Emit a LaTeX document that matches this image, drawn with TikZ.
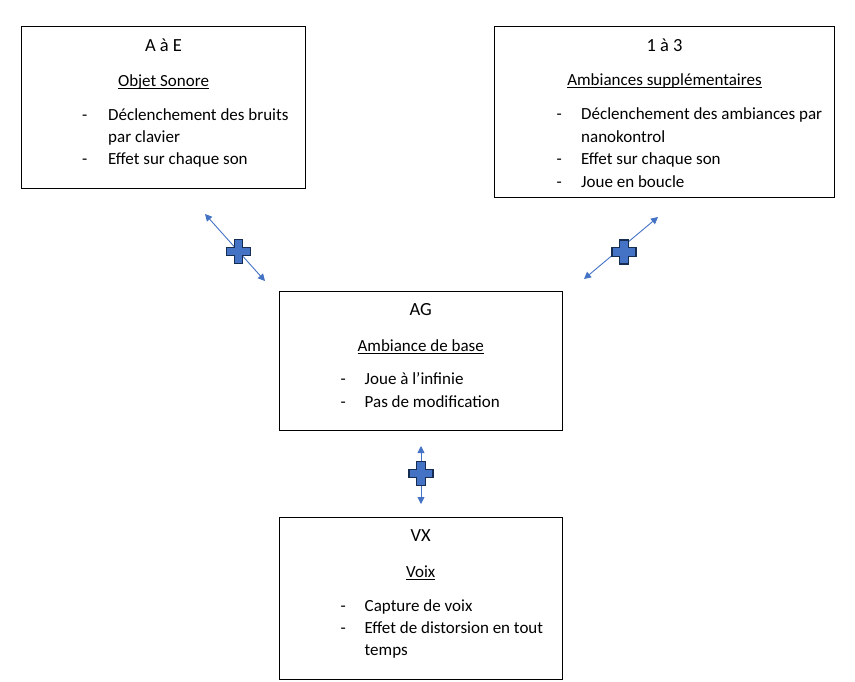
\documentclass[tikz,border=0pt]{standalone}
\usepackage{fontspec}
\setmainfont{Carlito}
\usetikzlibrary{arrows.meta}

\definecolor{bleu}{HTML}{4472C4}
\definecolor{marine}{HTML}{172C51}

% soulignement a la Word : trait fixe sous la ligne de base
\newcommand\souligne[1]{\leavevmode\setbox0\hbox{#1}\rlap{\rule[-2.6pt]{\wd0}{0.9pt}}\box0}

\tikzset{
  boite/.style={draw=black, line width=1pt, rectangle, inner sep=0pt},
  titre/.style={anchor=base, inner sep=0pt, font=\fontsize{18.5}{22}\selectfont},
  soustitre/.style={anchor=base, inner sep=0pt, font=\fontsize{17}{22}\selectfont},
  ligne/.style={anchor=base west, inner sep=0pt, font=\fontsize{17}{22}\selectfont},
  lien/.style={draw=bleu, line width=0.9pt, {Triangle[length=7pt,width=7pt]}-{Triangle[length=7pt,width=7pt]}},
  croix/.pic={
    \filldraw[fill=bleu, draw=marine, line width=1.1pt]
      (-4.2,-12) -- (4.2,-12) -- (4.2,-4.2) -- (12,-4.2) -- (12,4.2) -- (4.2,4.2)
      -- (4.2,12) -- (-4.2,12) -- (-4.2,4.2) -- (-12,4.2) -- (-12,-4.2) -- (-4.2,-4.2) -- cycle;
  }
}

\begin{document}
\begin{tikzpicture}[x=1pt, y=-1pt]

  %% ==== boites ====
  \node[boite, minimum width=283.6pt, minimum height=161.6pt] (objet) at (163.5,107.5) {};
  \node[boite, minimum width=339.6pt, minimum height=171pt] (ambsup) at (664.5,112.2) {};
  \node[boite, minimum width=283.3pt, minimum height=139pt] (ambbase) at (420.7,360.6) {};
  \node[boite, minimum width=283.3pt, minimum height=161.6pt] (voix) at (420.7,598.5) {};

  %% ==== A a E ====
  \node[titre] (objetT) at (163.5,51) {A à E};
  \node[soustitre] (objetS) at (163.5,86) {\souligne{Objet Sonore}};
  \node[ligne] (objetD1) at (82,120) {-};
  \node[ligne] (objetL1) at (108,120) {Déclenchement des bruits};
  \node[ligne] (objetL1b) at (108,142.5) {par clavier};
  \node[ligne] (objetD2) at (82,164.5) {-};
  \node[ligne] (objetL2) at (108,164.5) {Effet sur chaque son};

  %% ==== 1 a 3 ====
  \node[titre] (ambsupT) at (664.5,51) {1 à 3};
  \node[soustitre] (ambsupS) at (664.5,85.5) {\souligne{Ambiances supplémentaires}};
  \node[ligne] (ambsupD1) at (556.5,119.5) {-};
  \node[ligne] (ambsupL1) at (581,119.5) {Déclenchement des ambiances par};
  \node[ligne] (ambsupL1b) at (581,142) {nanokontrol};
  \node[ligne] (ambsupD2) at (556.5,164.5) {-};
  \node[ligne] (ambsupL2) at (581,164.5) {Effet sur chaque son};
  \node[ligne] (ambsupD3) at (556.5,187) {-};
  \node[ligne] (ambsupL3) at (581,187) {Joue en boucle};

  %% ==== AG ====
  \node[titre] (ambbaseT) at (420.7,315.7) {AG};
  \node[soustitre] (ambbaseS) at (420.7,351) {\souligne{Ambiance de base}};
  \node[ligne] (ambbaseD1) at (340.5,384.3) {-};
  \node[ligne] (ambbaseL1) at (364.5,384.3) {Joue à l’infinie};
  \node[ligne] (ambbaseD2) at (340.5,407.3) {-};
  \node[ligne] (ambbaseL2) at (364.5,407.3) {Pas de modification};

  %% ==== VX ====
  \node[titre] (voixT) at (420.7,541.3) {VX};
  \node[soustitre] (voixS) at (420.7,577) {\souligne{Voix}};
  \node[ligne] (voixD1) at (340.5,611) {-};
  \node[ligne] (voixL1) at (364.5,611) {Capture de voix};
  \node[ligne] (voixD2) at (340.5,633.7) {-};
  \node[ligne] (voixL2) at (364.5,633.7) {Effet de distorsion en tout};
  \node[ligne] (voixL2b) at (364.5,655.5) {temps};

  %% ==== liens + croix ====
  \coordinate (lienAh) at (205,214);
  \coordinate (lienAb) at (265,281);
  \coordinate (lienBh) at (658,217);
  \coordinate (lienBb) at (584,279);
  \coordinate (lienCh) at (421,446);
  \coordinate (lienCb) at (421,504);
  \draw[lien] (lienAh) -- (lienAb);
  \draw[lien] (lienBh) -- (lienBb);
  \draw[lien] (lienCh) -- (lienCb);
  \pic at (238.5,251.5) {croix};
  \pic at (624,252) {croix};
  \pic at (421,473.5) {croix};

  % cadre fixe 855 x 681
  \pgfresetboundingbox
  \path[use as bounding box] (0,0) rectangle (855,681);
\end{tikzpicture}
\end{document}
